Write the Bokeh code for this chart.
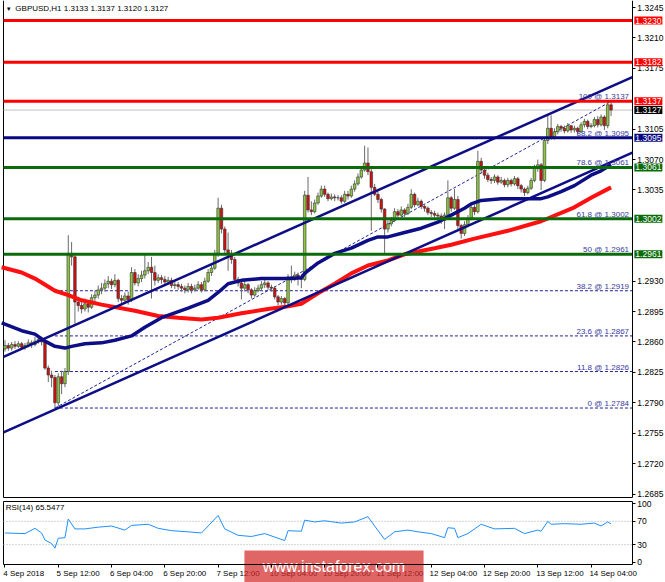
from bokeh.plotting import figure
from bokeh.layouts import column
from bokeh.models import Range1d, FixedTicker, Label, PrintfTickFormatter, ColumnDataSource
from bokeh.embed import file_html
from bokeh.resources import INLINE
from bokeh.core.properties import value

FONT = "Liberation Sans"
FS = "8px"
FS_AX = "8.5px"

symbol = "GBPUSD,H1"
first_open = 1.2852
close = [
    1.2856, 1.2853, 1.2857, 1.2855, 1.2858, 1.2854, 1.2856, 1.2859, 1.2857, 1.2861,
    1.2863, 1.2860, 1.2830, 1.2822, 1.2819, 1.2790, 1.2820, 1.2812, 1.2826, 1.2962,
    1.2958, 1.2906, 1.2902, 1.2898, 1.2904, 1.2900, 1.2911, 1.2914, 1.2920, 1.2922,
    1.2927, 1.2930, 1.2926, 1.2931, 1.2910, 1.2908, 1.2913, 1.2909, 1.2940, 1.2928,
    1.2933, 1.2937, 1.2942, 1.2946, 1.2940, 1.2931, 1.2934, 1.2932, 1.2929, 1.2931,
    1.2925, 1.2926, 1.2924, 1.2922, 1.2920, 1.2924, 1.2920, 1.2922, 1.2926, 1.2920,
    1.2930, 1.2940, 1.2945, 1.2962, 1.3014, 1.2990, 1.2966, 1.2962, 1.2955, 1.2932,
    1.2928, 1.2922, 1.2926, 1.2920, 1.2914, 1.2919, 1.2922, 1.2926, 1.2928, 1.2923,
    1.2922, 1.2912, 1.2906, 1.2910, 1.2905, 1.2935, 1.2932, 1.2937, 1.2935, 1.2932,
    1.3029, 1.3012, 1.3010, 1.3020, 1.3028, 1.3036, 1.3030, 1.3025, 1.3027, 1.3026,
    1.3026, 1.3022, 1.3030, 1.3028, 1.3036, 1.3042, 1.3050, 1.3058, 1.3066, 1.3056,
    1.3038, 1.3030, 1.3024, 1.3013, 1.2990, 1.2996, 1.3000, 1.3010, 1.3006, 1.3012,
    1.3008, 1.3015, 1.3030, 1.3018, 1.3022, 1.3016, 1.3014, 1.3009, 1.3008, 1.3006,
    1.3005, 1.3000, 1.3006, 1.3026, 1.3014, 1.3024, 1.2994, 1.2985, 1.2995, 1.3002,
    1.3015, 1.3010, 1.3068, 1.3058, 1.3052, 1.3047, 1.3046, 1.3050, 1.3044, 1.3046,
    1.3041, 1.3046, 1.3042, 1.3048, 1.3040, 1.3036, 1.3032, 1.3037, 1.3046, 1.3060,
    1.3064, 1.3046, 1.3092, 1.3106, 1.3096, 1.3102, 1.3108, 1.3106, 1.3103, 1.3109,
    1.3104, 1.3106, 1.3102, 1.3110, 1.3114, 1.3108, 1.3109, 1.3116, 1.3110, 1.3119,
    1.3109, 1.3133, 1.3127]
high = [
    1.2862, 1.2859, 1.2860, 1.2861, 1.2861, 1.2860, 1.2859, 1.2863, 1.2862, 1.2866,
    1.2867, 1.2866, 1.2862, 1.2833, 1.2827, 1.2822, 1.2824, 1.2827, 1.2830, 1.2983,
    1.2975, 1.2962, 1.2912, 1.2908, 1.2910, 1.2908, 1.2915, 1.2919, 1.2925, 1.2928,
    1.2932, 1.2936, 1.2933, 1.2938, 1.2933, 1.2914, 1.2917, 1.2918, 1.2946, 1.2944,
    1.2938, 1.2942, 1.2960, 1.2952, 1.2958, 1.2948, 1.2938, 1.2937, 1.2936, 1.2935,
    1.2934, 1.2930, 1.2929, 1.2927, 1.2925, 1.2928, 1.2927, 1.2926, 1.2930, 1.2929,
    1.2934, 1.2944, 1.2950, 1.2966, 1.3026, 1.3018, 1.2993, 1.2986, 1.2966, 1.2958,
    1.2935, 1.2930, 1.2930, 1.2928, 1.2922, 1.2923, 1.2926, 1.2930, 1.2932, 1.2930,
    1.2926, 1.2924, 1.2914, 1.2913, 1.2912, 1.2938, 1.2948, 1.2941, 1.2940, 1.2938,
    1.3034, 1.3050, 1.3022, 1.3024, 1.3032, 1.3040, 1.3040, 1.3032, 1.3031, 1.3030,
    1.3029, 1.3029, 1.3034, 1.3034, 1.3040, 1.3046, 1.3054, 1.3062, 1.3086, 1.3084,
    1.3060, 1.3042, 1.3034, 1.3026, 1.3014, 1.3000, 1.3004, 1.3014, 1.3013, 1.3016,
    1.3014, 1.3019, 1.3036, 1.3032, 1.3026, 1.3024, 1.3019, 1.3016, 1.3012, 1.3011,
    1.3009, 1.3008, 1.3009, 1.3046, 1.3028, 1.3036, 1.3028, 1.2996, 1.2999, 1.3006,
    1.3018, 1.3018, 1.3080, 1.3072, 1.3062, 1.3055, 1.3050, 1.3053, 1.3052, 1.3050,
    1.3048, 1.3049, 1.3048, 1.3051, 1.3050, 1.3042, 1.3038, 1.3040, 1.3049, 1.3064,
    1.3070, 1.3066, 1.3096, 1.3121, 1.3121, 1.3106, 1.3111, 1.3110, 1.3109, 1.3112,
    1.3110, 1.3109, 1.3108, 1.3113, 1.3117, 1.3116, 1.3112, 1.3119, 1.3120, 1.3122,
    1.3121, 1.3136, 1.3137]
low = [
    1.2849, 1.2850, 1.2850, 1.2852, 1.2853, 1.2851, 1.2851, 1.2854, 1.2853, 1.2855,
    1.2858, 1.2856, 1.2828, 1.2814, 1.2808, 1.2784, 1.2786, 1.2800, 1.2808, 1.2822,
    1.2948, 1.2881, 1.2895, 1.2893, 1.2895, 1.2894, 1.2898, 1.2906, 1.2910, 1.2915,
    1.2918, 1.2922, 1.2921, 1.2923, 1.2906, 1.2902, 1.2904, 1.2903, 1.2906, 1.2925,
    1.2924, 1.2929, 1.2933, 1.2938, 1.2910, 1.2925, 1.2928, 1.2927, 1.2925, 1.2926,
    1.2922, 1.2921, 1.2920, 1.2918, 1.2916, 1.2917, 1.2916, 1.2918, 1.2920, 1.2917,
    1.2918, 1.2928, 1.2936, 1.2943, 1.2958, 1.2985, 1.2960, 1.2942, 1.2950, 1.2928,
    1.2924, 1.2909, 1.2918, 1.2916, 1.2910, 1.2912, 1.2917, 1.2919, 1.2922, 1.2920,
    1.2918, 1.2909, 1.2902, 1.2903, 1.2900, 1.2903, 1.2928, 1.2930, 1.2925, 1.2922,
    1.2930, 1.3009, 1.3006, 1.3008, 1.3018, 1.3026, 1.3027, 1.3022, 1.3023, 1.3022,
    1.3023, 1.3019, 1.3020, 1.3024, 1.3026, 1.3033, 1.3040, 1.3048, 1.3056, 1.3052,
    1.2988, 1.3028, 1.3020, 1.3009, 1.2961, 1.2986, 1.2993, 1.2998, 1.3003, 1.3004,
    1.3004, 1.3006, 1.3013, 1.3015, 1.3016, 1.3013, 1.3010, 1.3006, 1.3004, 1.3003,
    1.3001, 1.2996, 1.2990, 1.3004, 1.3010, 1.3012, 1.2990, 1.2979, 1.2982, 1.2992,
    1.3000, 1.3006, 1.3008, 1.3054, 1.3048, 1.3044, 1.3042, 1.3043, 1.3041, 1.3042,
    1.3038, 1.3038, 1.3039, 1.3040, 1.3036, 1.3032, 1.3028, 1.3030, 1.3035, 1.3044,
    1.3056, 1.3035, 1.3044, 1.3088, 1.3093, 1.3093, 1.3099, 1.3102, 1.3100, 1.3101,
    1.3101, 1.3101, 1.3099, 1.3101, 1.3107, 1.3105, 1.3106, 1.3107, 1.3107, 1.3108,
    1.3104, 1.3106, 1.3120]

blue_ma_bar = [-1, 5, 9, 12, 15, 18, 20, 24, 29, 33, 38, 42, 47, 55, 61, 64, 67, 71, 77, 86,
               89, 90, 94, 99, 104, 109, 112, 115, 120, 125, 130, 134, 138, 140, 143, 149, 155,
               161, 163, 167, 171, 176, 179, 182]
blue_ma_val = [1.2882, 1.2873, 1.2869, 1.2861, 1.2855, 1.2853, 1.2855, 1.2858, 1.2859, 1.2862,
               1.2867, 1.2877, 1.2888, 1.2899, 1.2908, 1.2917, 1.2927, 1.2931, 1.2933, 1.2933,
               1.2934, 1.2939, 1.2951, 1.2962, 1.2968, 1.2977, 1.2981, 1.2981, 1.2986, 1.2991,
               1.2998, 1.3006, 1.3014, 1.3019, 1.3023, 1.3025, 1.3025, 1.3025, 1.3027, 1.3033,
               1.3040, 1.3052, 1.3057, 1.3064]
red_ma_bar = [-1, 5, 9, 15, 19, 23, 29, 39, 46, 52, 59, 64, 71, 79, 85, 89, 94, 99, 104, 109,
              115, 120, 129, 134, 141, 151, 161, 171, 176, 182]
red_ma_val = [1.2946, 1.2940, 1.2933, 1.2919, 1.2914, 1.2908, 1.2903, 1.2896, 1.2890, 1.2888,
              1.2886, 1.2888, 1.2893, 1.2898, 1.2901, 1.2904, 1.2916, 1.2927, 1.2939, 1.2948,
              1.2954, 1.2961, 1.2968, 1.2972, 1.2979, 1.2988, 1.2999, 1.3015, 1.3026, 1.3038]

channel_bar = [-0.45, 188.4]
channel_upper = [1.2843, 1.3165]
channel_lower = [1.2756, 1.3078]

fib_pct = ["0", "11.8", "23.6", "38.2", "50", "61.8", "78.6", "88.2", "100"]
fib_price = [1.2784, 1.2826, 1.2867, 1.2919, 1.2961, 1.3002, 1.3061, 1.3095, 1.3137]
fib_bar = [15, 182]

red_levels = [1.3230, 1.3182, 1.3137]
navy_levels = [1.3095]
green_levels = [1.3061, 1.3002, 1.2961]

price_ticks = [1.2685, 1.2720, 1.2755, 1.2790, 1.2825, 1.2860, 1.2895, 1.2930,
               1.3035, 1.3070, 1.3105, 1.3175, 1.3210, 1.3245]

date_bars = [0, 16, 32, 48, 64, 80, 96, 112, 128, 144, 160, 176]
date_labels = ["4 Sep 2018", "5 Sep 12:00", "6 Sep 04:00", "6 Sep 20:00", "7 Sep 12:00",
               "10 Sep 04:00", "10 Sep 20:00", "11 Sep 12:00", "12 Sep 04:00", "12 Sep 20:00",
               "13 Sep 12:00", "14 Sep 04:00"]

rsi_bar = [0, 6, 9, 11, 12, 14, 15, 16, 18, 19, 21, 24, 28, 32, 36, 38, 43, 46, 50, 55, 59,
           61, 64, 66, 70, 74, 78, 82, 84, 85, 89, 90, 93, 96, 101, 105, 109, 111, 114, 117,
           121, 124, 128, 132, 133, 135, 136, 139, 143, 147, 153, 156, 160, 161, 163, 164,
           168, 173, 177, 179, 181, 182]
rsi_val = [50, 49, 58, 50, 38, 32, 24, 41, 42, 74, 57, 57, 60, 62, 55, 63, 65, 58, 54, 52, 50,
           62, 80, 57, 46, 44, 49, 41, 37, 54, 53, 72, 69, 71, 67, 69, 78, 62, 39, 52,
           55, 52, 49, 42, 59, 58, 42, 49, 65, 57, 58, 49, 55, 53, 70, 65,
           66, 65, 67, 62, 69, 65.5477]
rsi_levels = [30, 70]
rsi_ticks = [0, 30, 70, 100]

watermark_text = "www.instaforex.com"

# ---------------------------------------------------------------- geometry (layout only)
X_VIEW = (-1.351, 198.35)        # whole canvas width, in bars
X_LEFT, X_AXIS = -0.45, 188.4     # chart border and price-axis position
P_VIEW = (1.26787, 1.32531)       # main panel canvas, in price
P_BOTTOM = 1.26810                # main panel bottom border
R_VIEW = (-34.86, 107.43)         # RSI panel canvas, in RSI units
R_BOX = (-4, 104)                 # RSI window border
WM_BOX = (71.9, 125.7, -34.9, 20.0)
NAVY = "#0d0d85"
GREEN = "#0b6b0b"

n = len(close)
bars = list(range(n))
opens = [first_open] + close[:-1]
up = [i for i in bars if close[i] >= opens[i]]
dn = [i for i in bars if close[i] < opens[i]]


def candle_src(idx):
    return ColumnDataSource(dict(
        x=[bars[i] for i in idx],
        top=[max(opens[i], close[i]) for i in idx],
        bottom=[min(opens[i], close[i]) for i in idx],
        high=[high[i] for i in idx],
        low=[low[i] for i in idx]))


def bare(fig):
    fig.xgrid.visible = False
    fig.ygrid.visible = False
    fig.outline_line_color = None
    fig.background_fill_color = "white"
    fig.border_fill_color = "white"


def style_axis(a):
    a.major_label_text_font = FONT
    a.major_label_text_font_size = FS_AX
    a.major_label_text_color = "black"
    a.major_tick_out = 3
    a.major_tick_in = 0
    a.minor_tick_out = 0
    a.minor_tick_in = 0
    a.axis_line_color = "black"
    a.major_tick_line_color = "black"
    a.major_label_standoff = 2


# ---------------------------------------------------------------- main panel
p = figure(width=665, height=499, x_range=Range1d(*X_VIEW), y_range=Range1d(*P_VIEW),
           x_axis_location=None, y_axis_location="right", output_backend="svg",
           toolbar_location=None, min_border_left=0, min_border_right=0,
           min_border_top=0, min_border_bottom=0)
bare(p)

ax = p.yaxis[0]
ax.fixed_location = X_AXIS
ax.bounds = (P_BOTTOM, P_VIEW[1])
ax.ticker = FixedTicker(ticks=price_ticks)
ax.formatter = PrintfTickFormatter(format="%.4f")
style_axis(ax)

# chart border
p.line([X_LEFT, X_LEFT], [P_BOTTOM, P_VIEW[1]], line_color="black", line_width=1)
p.line([X_LEFT, X_AXIS], [P_BOTTOM, P_BOTTOM], line_color="black", line_width=1)

# bid line
p.segment(x0=[X_LEFT], y0=[close[-1]], x1=[X_AXIS], y1=[close[-1]],
          line_color="#c4c4c4", line_width=1)

# fibonacci levels
p.segment(x0=[fib_bar[0]] * len(fib_price), y0=fib_price, x1=[X_AXIS] * len(fib_price),
          y1=fib_price, line_color="#23239a", line_width=1, line_dash="3 2")
p.line(fib_bar, [fib_price[0], fib_price[-1]], line_color="#23239a", line_width=1,
       line_dash="3 2")

# candles
for idx, fill in ((up, "#8dc63f"), (dn, "#d01010")):
    s = candle_src(idx)
    p.segment(x0="x", y0="low", x1="x", y1="high", source=s, line_color="#6a6a6a", line_width=1)
    p.vbar(x="x", width=0.78, top="top", bottom="bottom", source=s,
           fill_color=fill, line_color="#333333", line_width=0.6)

# moving averages
p.line(red_ma_bar, red_ma_val, line_color="#ff1010", line_width=4)
p.line(blue_ma_bar, blue_ma_val, line_color=NAVY, line_width=3.5)

# channel
p.line(channel_bar, channel_upper, line_color=NAVY, line_width=2.5)
p.line(channel_bar, channel_lower, line_color=NAVY, line_width=2.5)

# horizontal levels
for levels, col in ((red_levels, "#ff0000"), (navy_levels, "#0a0a80"), (green_levels, GREEN)):
    p.segment(x0=[X_LEFT] * len(levels), y0=levels, x1=[X_AXIS] * len(levels), y1=levels,
              line_color=col, line_width=3)

# fib labels
p.text(x=[X_AXIS - 1.0] * len(fib_price), y=fib_price,
       text=[f"{a} @ {b:.4f}" for a, b in zip(fib_pct, fib_price)],
       text_align="right", text_baseline="bottom", text_color="#3a3aa0",
       text_font=value(FONT), text_font_size=value(FS))

# price boxes on the axis
for lv, col in ([(v, "#ff0000") for v in red_levels] + [(close[-1], "#000000")] +
                [(v, "#0a0a80") for v in navy_levels] + [(v, GREEN) for v in green_levels]):
    p.add_layout(Label(x=X_AXIS, y=lv, x_offset=2, text=f"{lv:.4f}", text_color="white",
                       text_font=FONT, text_font_size=FS_AX, text_align="left",
                       text_baseline="middle", background_fill_color=col, padding=1))

# title
p.add_layout(Label(x=0.2, y=1.32438, text="\u25bc", text_font=FONT, text_font_size="6px",
                   text_baseline="middle", text_color="black"))
p.add_layout(Label(x=3.1, y=1.32438,
                   text=f"{symbol}  {opens[-1]:.4f} {high[-1]:.4f} {low[-1]:.4f} {close[-1]:.4f}",
                   text_font=FONT, text_font_size=FS, text_baseline="middle", text_color="black"))

# ---------------------------------------------------------------- RSI panel
r = figure(width=665, height=83, x_range=p.x_range, y_range=Range1d(*R_VIEW),
           x_axis_location="below", y_axis_location="right", output_backend="svg",
           toolbar_location=None, min_border_left=0, min_border_right=0,
           min_border_top=0, min_border_bottom=0)
bare(r)

ra = r.yaxis[0]
ra.fixed_location = X_AXIS
ra.bounds = R_BOX
ra.ticker = FixedTicker(ticks=rsi_ticks)
style_axis(ra)

xa = r.xaxis[0]
xa.fixed_location = R_BOX[0]
xa.bounds = (X_LEFT, X_AXIS)
xa.ticker = FixedTicker(ticks=date_bars)
xa.major_label_overrides = {b: "" for b in date_bars}
style_axis(xa)

# RSI window border (top + left; bottom is the time axis, right is the RSI axis)
r.line([X_LEFT, X_AXIS], [R_BOX[1], R_BOX[1]], line_color="black", line_width=1)
r.line([X_LEFT, X_LEFT], [R_BOX[0], R_BOX[1]], line_color="black", line_width=1)

r.segment(x0=[X_LEFT] * len(rsi_levels), y0=rsi_levels, x1=[X_AXIS] * len(rsi_levels),
          y1=rsi_levels, line_color="#a8a8a8", line_width=1, line_dash="1 2")
r.line(rsi_bar, rsi_val, line_color="#1e90ff", line_width=1)

r.text(x=[0.2], y=[93.7], text=[f"RSI(14) {rsi_val[-1]:.4f}"], text_baseline="middle",
       text_color="black", text_font=value(FONT), text_font_size=value(FS))

# time labels (left-aligned on their tick, as in MetaTrader)
r.text(x=[b - 0.5 for b in date_bars], y=[-10.9] * len(date_bars), text=date_labels,
       text_align="left", text_baseline="top", text_color="black",
       text_font=value(FONT), text_font_size=value(FS))

# watermark
r.quad(left=[WM_BOX[0]], right=[WM_BOX[1]], bottom=[WM_BOX[2]], top=[WM_BOX[3]],
       fill_color="#d42a2a", fill_alpha=0.72, line_color=None)
r.text(x=[(WM_BOX[0] + WM_BOX[1]) / 2], y=[-7.4], text=[watermark_text], text_align="center",
       text_baseline="middle", text_color="white", text_font=value(FONT),
       text_font_size=value("16px"))

layout = column(p, r, spacing=0)
open("out.html", "w").write(file_html(layout, INLINE))
